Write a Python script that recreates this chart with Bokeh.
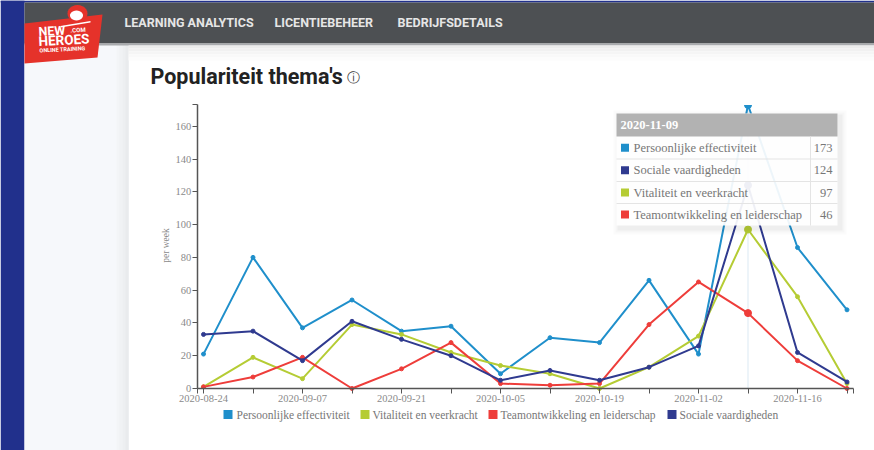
from math import pi, cos, sin
from bokeh.embed import file_html
from bokeh.resources import INLINE
from bokeh.plotting import figure
from bokeh.models import BoxAnnotation, Label, PolyAnnotation, FixedTicker, Range1d

weeks = ["2020-08-24", "2020-08-31", "2020-09-07", "2020-09-14", "2020-09-21", "2020-09-28", "2020-10-05",
         "2020-10-12", "2020-10-19", "2020-10-26", "2020-11-02", "2020-11-09", "2020-11-16", "2020-11-23"]
persoonlijke = [21, 80, 37, 54, 35, 38, 9, 31, 28, 66, 21, 173, 86, 48]
vitaliteit = [1, 19, 6, 39, 33, 22, 14, 9, 0, 13, 32, 97, 56, 3]
team = [1, 7, 19, 0, 12, 28, 3, 2, 3, 39, 65, 46, 17, 0]
sociale = [33, 35, 17, 41, 30, 20, 5, 11, 5, 13, 26, 124, 22, 4]
series_names = ["Persoonlijke effectiviteit", "Vitaliteit en veerkracht", "Teamontwikkeling en leiderschap", "Sociale vaardigheden"]
series_colors = ["#1f8fcb", "#b5cc34", "#ee3d3a", "#2f3a8f"]
y_ticks = [0, 20, 40, 60, 80, 100, 120, 140, 160]
nav_items = ["LEARNING ANALYTICS", "LICENTIEBEHEER", "BEDRIJFSDETAILS"]
hover_week = 11
tooltip_order = [0, 3, 1, 2]

W, H = 874, 450
SERIF = "Liberation Serif"
SANS = "Roboto"

# the frame fills the canvas; the axes sit inside it at fixed locations
PX_X, PX_Y = 49.5, 1.639
X0, Y0 = 203, 388
x_lo, x_hi = -0.127, 13.13
y_top = 173

x = list(range(len(weeks)))
p = figure(width=W, height=H, output_backend="svg", toolbar_location=None,
           x_range=Range1d(-X0 / PX_X, (W - X0) / PX_X), y_range=Range1d(-(H - Y0) / PX_Y, Y0 / PX_Y),
           min_border=0)
p.outline_line_color = None
p.grid.visible = False
p.background_fill_color = "white"
p.border_fill_color = "white"


def box(x0, y0, x1, y1, color, alpha=1.0, level="underlay"):
    p.add_layout(BoxAnnotation(left=x0, right=x1, top=H - y0, bottom=H - y1,
                               left_units="screen", right_units="screen", top_units="screen", bottom_units="screen",
                               fill_color=color, fill_alpha=alpha, line_color=None, level=level,
                               editable=False))


def text(x0, y0, s, size, color, font=SERIF, style="normal", align="left", angle=0):
    p.add_layout(Label(x=x0, y=H - y0, x_units="screen", y_units="screen", text=s,
                       text_font=font, text_font_size=f"{size}px", text_color=color, text_font_style=style,
                       text_align=align, text_baseline="middle", angle=angle, level="overlay"))


def poly(xs, ys, color):
    p.add_layout(PolyAnnotation(xs=list(xs), ys=[H - v for v in ys], xs_units="screen", ys_units="screen",
                                fill_color=color, fill_alpha=1, line_color=None, level="overlay", editable=False))


def ellipse(cx, cy, rx, ry, color):
    n = 24
    poly([cx + rx * cos(2 * pi * i / n) for i in range(n)], [cy + ry * sin(2 * pi * i / n) for i in range(n)], color)


# page chrome
box(0, 0, 874, 2, "#21308c")
box(0, 0, 24, 450, "#21308c")
box(24, 44, 128, 450, "#f6f8fb")
for i, c in enumerate(["#f3f5f7", "#f0f2f4", "#edeff1", "#e9ebed"]):
    box(116 + 3 * i, 44, 128, 450, c)
box(24, 2, 874, 43, "#4d5053")
box(24, 43, 874, 45, "#a9abae")
for i, c in enumerate(["#ececec", "#f1f1f1", "#f5f5f5", "#f9f9f9", "#fcfcfc"]):
    box(128, 45 + 3 * i, 874, 48 + 3 * i, c)
for name, xp in zip(nav_items, [124, 274, 397]):
    text(xp, 22, name, 12.5, "#e6e6e6", font=SANS, style="bold")

# logo
poly([24, 102, 97, 24], [23, 14, 57, 63], "#e5322a")
ellipse(77, 13, 10, 8.5, "#e5322a")
ellipse(76, 15, 6.5, 5, "#ffffff")
poly([60, 90, 90, 60], [25.5, 20.5, 22, 27], "#ffffff")
text(38, 31, "NEW", 12.5, "white", font=SANS, style="bold", angle=0.05)
text(70, 29.5, ".COM", 6, "white", font=SANS, style="bold", angle=0.05)
text(38, 40.5, "HEROES", 13.5, "white", font=SANS, style="bold", angle=0.05)
text(39, 50, "ONLINE TRAINING", 5.5, "white", font=SANS, style="bold", angle=0.05)

# title
text(150, 76, "Populariteit thema's", 21.5, "#222222", font=SANS, style="bold")
text(346, 77, "\u24d8", 13, "#333333", font="DejaVu Sans")

# axes
p.xaxis.ticker = FixedTicker(ticks=[x_lo] + x + [x_hi])
p.xaxis.major_label_overrides = {**{i: (w if i % 2 == 0 and i < 13 else "") for i, w in enumerate(weeks)}, x_lo: "", x_hi: ""}
p.yaxis.ticker = FixedTicker(ticks=y_ticks + [y_top])
p.yaxis.major_label_overrides = {y_top: ""}
p.xaxis.fixed_location = 0
p.yaxis.fixed_location = x_lo
p.xaxis.bounds = (x_lo, x_hi)
p.yaxis.bounds = (0, y_top)
for ax in (p.xaxis[0], p.yaxis[0]):
    ax.axis_line_color = "#555555"
    ax.axis_line_width = 1.5
    ax.major_tick_line_color = "#555555"
    ax.major_tick_out = 5
    ax.major_tick_in = 0
    ax.minor_tick_line_color = None
    ax.major_label_text_font = SERIF
    ax.major_label_text_font_size = "10.5px"
    ax.major_label_text_color = "#8a8a8a"
    ax.major_label_standoff = 1
text(165, 245, "per week", 9.5, "#8a8a8a", align="center", angle=pi / 2)

# marks
p.segment([hover_week], [0], [hover_week], [y_top], line_color="#dbe9f3", line_width=1)
for vals, color in zip([persoonlijke, vitaliteit, team, sociale], series_colors):
    p.line(x, vals, line_color=color, line_width=2)
    p.scatter(x, vals, size=4, fill_color=color, line_color=color)
    p.scatter([hover_week], [vals[hover_week]], size=7, fill_color=color, line_color=color)
box(735, 92, 760, 104.5, "#ffffff", 1, "annotation")

# tooltip
for d, a in [(6, 0.015), (4, 0.02), (2, 0.03)]:
    box(616 - d + 3, 113 - d + 3, 837 + d + 3, 225 + d + 3, "#000000", a, "overlay")
box(616, 113, 837, 225, "#ffffff", 0.92, "overlay")
box(616, 113, 837, 136, "#b2b2b2", 1, "overlay")
text(620, 124, weeks[hover_week], 12.5, "#ffffff", style="bold")
rows = [136, 158.5, 181, 203, 225]
all_vals = [persoonlijke, vitaliteit, team, sociale]
for i, idx in enumerate(tooltip_order):
    y0, y1 = rows[i], rows[i + 1]
    ym = (y0 + y1) / 2
    box(620.5, ym - 4, 628.5, ym + 4, series_colors[idx], 1, "overlay")
    text(633, ym, series_names[idx], 12.5, "#777777")
    text(832, ym, str(all_vals[idx][hover_week]), 12.5, "#777777", align="right")
    if i < 3:
        box(616, y1 - 0.5, 837, y1 + 0.5, "#e4e4e4", 1, "overlay")
box(809.5, 136, 810.5, 225, "#e4e4e4", 1, "overlay")

# legend
for idx, (sq, tx) in enumerate(zip([223, 360, 488, 667], [236, 372, 500, 679])):
    box(sq, 409.5, sq + 9, 418.5, series_colors[idx])
    text(tx, 414, series_names[idx], 11.5, "#777777")

open("out.html", "w").write(file_html(p, INLINE))
